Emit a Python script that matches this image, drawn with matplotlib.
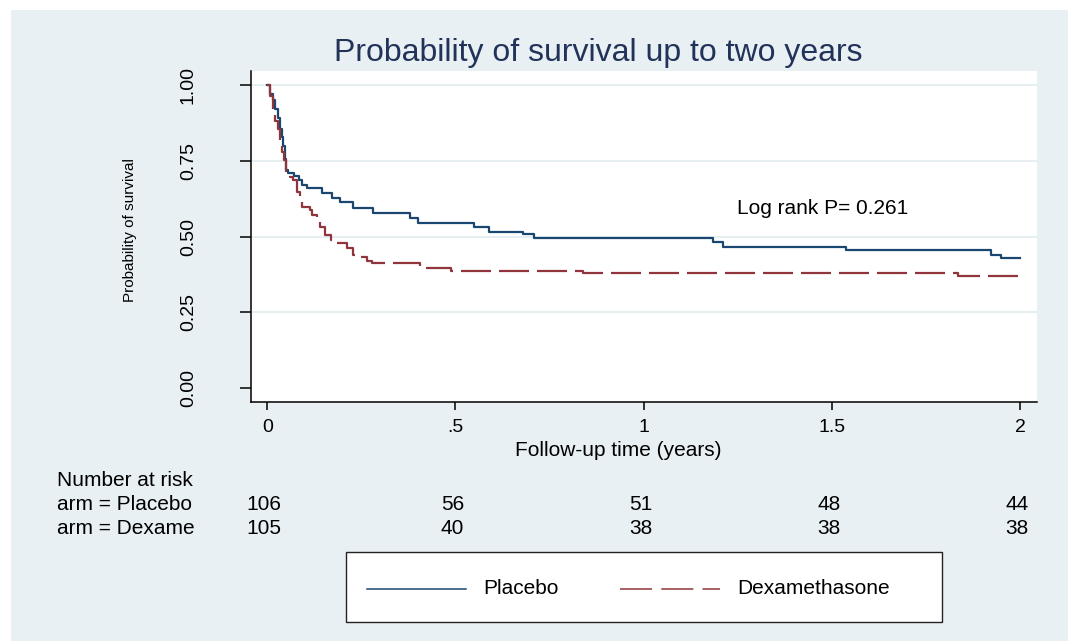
import matplotlib.pyplot as plt
from matplotlib.lines import Line2D
from matplotlib.patches import Rectangle

plt.rcParams['font.family'] = ['Liberation Sans', 'DejaVu Sans']

# Kaplan-Meier estimates (time in years, survival)
placebo_t = [0, 0.008, 0.014, 0.020, 0.028, 0.035, 0.040, 0.043, 0.048, 0.050,
             0.056, 0.070, 0.083, 0.093, 0.106, 0.146, 0.173, 0.194, 0.229,
             0.282, 0.380, 0.400, 0.548, 0.588, 0.680, 0.708, 1.183, 1.210,
             1.537, 1.923, 1.950, 2.0]
placebo_s = [1.0, 0.97, 0.95, 0.92, 0.89, 0.855, 0.83, 0.80, 0.755, 0.72,
             0.71, 0.70, 0.688, 0.67, 0.66, 0.645, 0.628, 0.615, 0.595,
             0.578, 0.561, 0.545, 0.532, 0.516, 0.508, 0.495, 0.483, 0.466,
             0.457, 0.439, 0.428, 0.428]

dexa_t = [0, 0.008, 0.016, 0.021, 0.029, 0.035, 0.040, 0.045, 0.050, 0.061,
          0.069, 0.080, 0.088, 0.093, 0.114, 0.120, 0.133, 0.141, 0.154,
          0.168, 0.186, 0.213, 0.229, 0.247, 0.266, 0.279, 0.405, 0.487,
          0.838, 1.835, 2.0]
dexa_s = [1.0, 0.963, 0.91, 0.88, 0.854, 0.81, 0.78, 0.754, 0.714, 0.698,
          0.688, 0.648, 0.615, 0.598, 0.588, 0.571, 0.548, 0.532, 0.505,
          0.488, 0.478, 0.462, 0.439, 0.432, 0.419, 0.412, 0.395, 0.386,
          0.378, 0.369, 0.369]

risk_times = [0, 0.5, 1, 1.5, 2]
risk_placebo = [106, 56, 51, 48, 44]
risk_dexa = [105, 40, 38, 38, 38]

xticks = [0, 0.5, 1, 1.5, 2]
xtick_labels = ['0', '.5', '1', '1.5', '2']
yticks = [0, 0.25, 0.5, 0.75, 1.0]
ytick_labels = ['0.00', '0.25', '0.50', '0.75', '1.00']

blue = '#1a476f'
red = '#90353b'
bg = '#e8f0f3'
W, H = 1068, 641


def fx(px):
    return px / W


def fy(py):
    return 1 - py / H


fig = plt.figure(figsize=(10.68, 6.41), dpi=100, facecolor='white')
fig.patches.append(Rectangle((fx(11), 0), 1 - fx(11), fy(10), transform=fig.transFigure,
                             facecolor=bg, edgecolor='none', zorder=-10))

ax = fig.add_axes([fx(251), fy(402), fx(1037) - fx(251), fy(71) - fy(402)])
ax.set_facecolor('white')
ax.set_xlim(-0.0433, 2.0452)
ax.set_ylim(-0.0462, 1.0462)

for y in yticks[1:]:
    ax.axhline(y, color='#e6eef1', lw=1.5, zorder=0)

ax.step(placebo_t, placebo_s, where='post', color=blue, lw=1.6)
ax.step(dexa_t, dexa_s, where='post', color=red, lw=1.6, dashes=(13.5, 3.6))

for s in ['top', 'right']:
    ax.spines[s].set_visible(False)
for s in ['left', 'bottom']:
    ax.spines[s].set_linewidth(1.1)

ax.set_xticks(xticks)
ax.set_xticklabels(xtick_labels, fontsize=14)
ax.set_yticks(yticks)
ax.set_yticklabels(ytick_labels, fontsize=14, rotation=90, va='center')
ax.tick_params(axis='x', length=6, width=1.1, pad=6)
ax.tick_params(axis='y', length=8, width=1.1, pad=31)

ax.text(1.248, 0.594, 'Log rank P= 0.261', fontsize=15, ha='left', va='center')

fig.text(fx(130), fy(230), 'Probability of survival', fontsize=11, rotation=90,
         ha='center', va='center')
fig.text(fx(598), fy(53), 'Probability of survival up to two years', fontsize=23,
         color='#22335a', ha='center', va='center')
fig.text(fx(618), fy(451), 'Follow-up time (years)', fontsize=15, ha='center', va='center')

# number at risk table
fig.text(fx(57), fy(480), 'Number at risk', fontsize=15, ha='left', va='center')
fig.text(fx(57), fy(504), 'arm = Placebo', fontsize=15, ha='left', va='center')
fig.text(fx(57), fy(529), 'arm = Dexame', fontsize=15, ha='left', va='center')
for t, a, b in zip(risk_times, risk_placebo, risk_dexa):
    xf = fig.transFigure.inverted().transform(ax.transData.transform((t, 0)))[0] - fx(3)
    fig.text(xf, fy(504), str(a), fontsize=15, ha='center', va='center')
    fig.text(xf, fy(529), str(b), fontsize=15, ha='center', va='center')

# legend box
fig.patches.append(Rectangle((fx(346), fy(622)), fx(942) - fx(346), fy(552) - fy(622),
                             transform=fig.transFigure, facecolor='white',
                             edgecolor='#222222', lw=1.0))
fig.lines.append(Line2D([fx(367), fx(466)], [fy(589), fy(589)], transform=fig.transFigure,
                        color=blue, lw=1.1))
fig.lines.append(Line2D([fx(620), fx(720)], [fy(589), fy(589)], transform=fig.transFigure,
                        color=red, lw=1.1, dashes=(21, 6)))
fig.text(fx(483), fy(589), 'Placebo', fontsize=15, ha='left', va='center')
fig.text(fx(737), fy(589), 'Dexamethasone', fontsize=15, ha='left', va='center')

fig.savefig('out.png', dpi=100, facecolor='white')
